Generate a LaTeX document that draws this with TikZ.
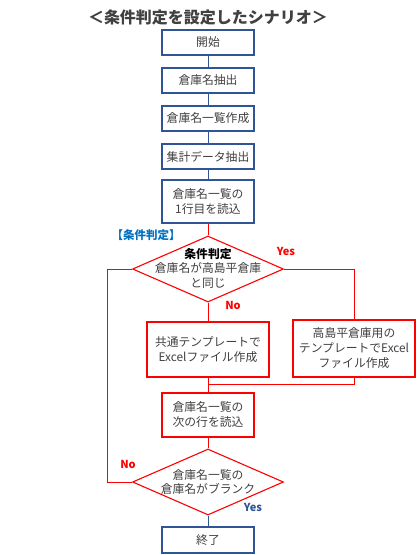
\documentclass[tikz,border=0pt]{standalone}
\usepackage{fontspec}
\setmainfont{Noto Sans CJK JP}
\usetikzlibrary{shapes.geometric, positioning}
\definecolor{flowblue}{HTML}{2F5597}
\definecolor{flowred}{HTML}{FF0000}
\definecolor{flowtext}{HTML}{404040}
\definecolor{tagblue}{HTML}{0070C0}

\begin{document}
\begin{tikzpicture}[
  x=1pt, y=-1pt,
  proc/.style={
    rectangle, draw=#1, line width=1.2pt, fill=white,
    minimum width=92pt, minimum height=25pt, inner sep=1pt,
    font=\fontsize{11.8}{15}\selectfont, text=flowtext, align=center
  },
  proc/.default=flowblue,
  cond/.style={
    diamond, draw=flowred, line width=1.1pt, fill=white,
    minimum width=151pt, minimum height=66pt, inner sep=0pt
  },
  condtext/.style={font=\fontsize{11.8}{14.5}\selectfont, text=flowtext, align=center},
  answer/.style={font=\fontsize{11}{12}\selectfont\bfseries, text=#1},
  link/.style={draw=#1, line width=0.9pt}
]
  \useasboundingbox (0,0) rectangle (420,555);

  \node[font=\fontsize{16}{19}\selectfont\bfseries, text=flowtext] (title) at (208,17) {＜条件判定を設定したシナリオ＞};

  \node[proc] (start) at (208,42.5) {開始};
  \node[proc] (extract) at (208,80.5) {倉庫名抽出};
  \node[proc] (list) at (208,118.5) {倉庫名一覧作成};
  \node[proc] (total) at (208,156.5) {集計データ抽出};
  \node[proc, minimum height=43pt] (first) at (208,201.5) {倉庫名一覧の\\1行目を読込};

  \node[font=\fontsize{11.5}{13}\selectfont\bfseries, text=tagblue] (tag) at (146,235) {【条件判定】};
  \node[cond] (check) at (208,269) {};
  \node[condtext] (checktext) at (208,268) {\textbf{\textcolor{black}{条件判定}}\\倉庫名が高島平倉庫\\と同じ};

  \node[proc=flowred, minimum width=122pt, minimum height=55pt] (common) at (208,349.5) {共通テンプレートで\\Excelファイル作成};
  \node[proc=flowred, minimum width=122pt, minimum height=57pt] (special) at (354,348.5) {高島平倉庫用の\\テンプレートでExcel\\ファイル作成};

  \node[proc=flowred, minimum height=44pt] (next) at (208,415) {倉庫名一覧の\\次の行を読込};
  \node[cond] (blank) at (208,482) {};
  \node[condtext] (blanktext) at (208,482) {倉庫名一覧の\\倉庫名がブランク};
  \node[proc, minimum height=26pt] (finish) at (208,540) {終了};

  \coordinate (loop) at (107,482);
  \coordinate (merge) at (208,384);

  % blue part
  \draw[link=flowblue] (start) -- (extract);
  \draw[link=flowblue] (extract) -- (list);
  \draw[link=flowblue] (list) -- (total);
  \draw[link=flowblue] (total) -- (first);
  \draw[link=flowblue] (blank) -- (finish);

  % red part
  \draw[link=flowred] (first) -- (check);
  \draw[link=flowred] (check) -- (common);
  \draw[link=flowred] (check.east) -| (special.north);
  \draw[link=flowred] (common) -- (next);
  \draw[link=flowred] (special.south) |- (merge);
  \draw[link=flowred] (next) -- (blank);
  \draw[link=flowred] (blank.west) -- (loop) |- (check.west);

  \node[answer=flowred] (yes1) at (286,251) {Yes};
  \node[answer=flowred] (no1) at (233,305) {No};
  \node[answer=flowred] (no2) at (128,464) {No};
  \node[answer=flowblue] (yes2) at (253,507) {Yes};
\end{tikzpicture}
\end{document}
